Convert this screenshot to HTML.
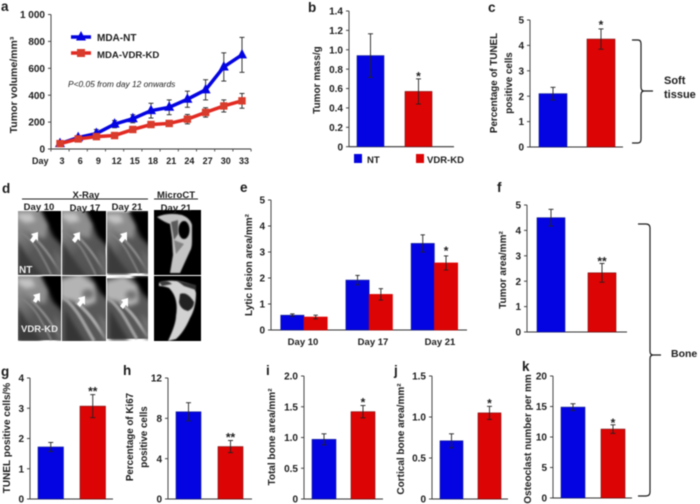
<!DOCTYPE html>
<html lang="en">
<head>
<meta charset="utf-8">
<title>Tumor and bone measurements</title>
<style>
html,body{margin:0;padding:0;background:#fff;width:700px;height:504px;overflow:hidden}
svg#fig{display:block;filter:blur(0.5px)}
text{font-family:"Liberation Sans",sans-serif;font-weight:bold;fill:#1c1c1c}
</style>
</head>
<body>
<svg id="fig" xmlns="http://www.w3.org/2000/svg" width="700" height="504" viewBox="0 0 700 504">
<defs>
  <linearGradient id="xrayBg" x1="0" y1="0" x2="1" y2="1">
    <stop offset="0" stop-color="#9a9a9a"/><stop offset="0.5" stop-color="#585858"/><stop offset="1" stop-color="#505050"/>
  </linearGradient>
  <filter id="soft" x="-30%" y="-30%" width="160%" height="160%"><feGaussianBlur stdDeviation="2.2"/></filter>
  <filter id="bone" x="-20%" y="-20%" width="140%" height="140%"><feGaussianBlur stdDeviation="0.9"/></filter>
  <filter id="softer" x="-20%" y="-20%" width="140%" height="140%"><feGaussianBlur stdDeviation="0.6"/></filter>
  <symbol id="xray-a" viewBox="0 0 44 65">
    <rect width="44" height="65" fill="url(#xrayBg)"/>
    <path d="M22 -4H48V38L36 26Z" fill="#040404" filter="url(#soft)"/>
    <path d="M-2 -2H20L30 14L28 28L16 24L-2 10Z" fill="#8e8e8e" filter="url(#soft)"/>
    <path d="M0 2H14L18 10L8 12L0 7Z" fill="#c4c4c4" filter="url(#soft)"/>
    <path d="M0 20Q14 28 22 42T34 65" fill="none" stroke="#808080" stroke-width="2" filter="url(#bone)"/>
    <path d="M14 24Q26 36 34 48T44 62" fill="none" stroke="#8e8e8e" stroke-width="2.4" filter="url(#bone)"/>
    <path d="M0 30V67H26Q8 46 0 30Z" fill="#3a3a3a" filter="url(#soft)"/>
    <path d="M36 38L46 48V67H40Z" fill="#666" filter="url(#soft)"/>
  </symbol>
  <symbol id="xray-b" viewBox="0 0 44 65">
    <rect width="44" height="65" fill="#585858"/>
    <path d="M26 -4H48V26L38 16Z" fill="#060606" filter="url(#soft)"/>
    <path d="M-2 4L18 -2L32 8L34 26L24 30L8 24L-2 24Z" fill="#b4b4b4" filter="url(#soft)"/>
    <ellipse cx="26" cy="18" rx="6" ry="5" fill="#747474" filter="url(#soft)"/>
    <path d="M0 20Q12 30 20 44T32 65" fill="none" stroke="#a0a0a0" stroke-width="3.4" filter="url(#bone)"/>
    <path d="M14 26Q26 36 34 48T44 62" fill="none" stroke="#aaa" stroke-width="3.4" filter="url(#bone)"/>
    <path d="M3 32V67H24Q10 46 3 32Z" fill="#363636" filter="url(#soft)"/>
    <path d="M36 38L46 46V67H42Z" fill="#6e6e6e" filter="url(#soft)"/>
  </symbol>
  <symbol id="micro-top" viewBox="0 0 47 65">
    <rect width="47" height="65" fill="#000"/>
    <path d="M3 7Q14 2 28 5Q36 8 38 15L38 31Q38 38 36 41L26 63H16L19 45L18 28L16 14Q10 12 3 7Z" fill="#c4c4c4" filter="url(#softer)"/>
    <ellipse cx="30" cy="20" rx="5.5" ry="9" fill="#000" filter="url(#softer)"/>
    <path d="M17 12L24 10L24 24L20 30Z" fill="#5a5a5a" filter="url(#softer)"/>
    <path d="M20 30L30 34L22 44Z" fill="#808080" filter="url(#softer)"/>
  </symbol>
  <symbol id="micro-bottom" viewBox="0 0 47 65">
    <rect width="47" height="65" fill="#000"/>
    <path d="M5 7Q20 1 40 10L42 17Q42 32 36 42Q30 56 22 63L14 65Q22 48 22 40Q25 22 15 12Q10 10 5 10Z" fill="#d2d2d2" filter="url(#softer)"/>
    <path d="M5 6Q12 3 18 8L8 10Z" fill="#3a3a3a" filter="url(#softer)"/>
    <path d="M26 18Q33 15 40 26Q40 32 34 35Q26 33 25 26Z" fill="#222" filter="url(#softer)"/>
    <path d="M22 4L42 9L42 14L30 10Z" fill="#333" filter="url(#softer)"/>
  </symbol>
</defs>
<rect width="700" height="504" fill="#fff"/>

<g>
  <use href="#xray-a" x="18" y="211" width="43" height="64"/>
  <use href="#xray-a" x="62" y="211" width="44" height="64"/>
  <use href="#xray-a" x="107" y="211" width="41" height="64"/>
  <use href="#xray-a" x="18" y="276" width="43" height="65"/>
  <use href="#xray-b" x="62" y="276" width="44" height="65"/>
  <use href="#xray-b" x="107" y="276" width="41" height="65"/>
  <use href="#micro-top" x="154" y="210" width="47" height="65"/>
  <use href="#micro-bottom" x="154" y="276" width="47" height="65"/>
  <g fill="#fff">
    <path d="M38 232L31 234L33 236L30 240L33 243L36 239L38 241Z"/>
    <path d="M80 232L73 234L75 236L72 240L75 243L78 239L80 241Z"/>
    <path d="M127 232L120 234L122 236L119 240L122 243L125 239L127 241Z"/>
    <path d="M40 293L33 295L35 297L33 301L36 303L38 300L40 302Z"/>
    <path d="M85 296L78 298L80 300L77 304L80 307L83 303L85 305Z"/>
    <path d="M128 298L121 300L123 302L120 306L123 309L126 305L128 307Z"/>
  </g>
  <text x="19" y="273" font-size="10" style="fill:#eee">NT</text>
  <text x="21" y="332" font-size="9.5" style="fill:#eee">VDR-KD</text>
  <text x="86" y="198" font-size="9.5" text-anchor="middle">X-Ray</text>
  <line x1="22" x2="148" y1="199" y2="199" stroke="#222" stroke-width="1"/>
  <text x="176" y="198" font-size="9.5" text-anchor="middle">MicroCT</text>
  <line x1="154" x2="198" y1="199" y2="199" stroke="#222" stroke-width="1"/>
  <text x="39" y="210" font-size="9.5" text-anchor="middle">Day 10</text>
  <text x="85" y="211" font-size="9.5" text-anchor="middle">Day 17</text>
  <text x="127" y="210" font-size="9.5" text-anchor="middle">Day 21</text>
  <text x="176" y="211" font-size="9.5" text-anchor="middle">Day 21</text>
</g>

<g fill="none" stroke="#1c1c1c" stroke-width="1.2">
  <path d="M632 40H638Q641 40 641 44V87Q641 91 644 91H653M644 91Q641 91 641 95V139Q641 143 638 143H632"/>
  <path d="M638 224H646Q650 224 650 228V351Q650 355 653 355H661M653 355Q650 355 650 359V492Q650 496 646 496H638"/>
</g>
<text x="664" y="84" font-size="11">Soft</text>
<text x="664" y="98" font-size="11">tissue</text>
<text x="671" y="357" font-size="10.5">Bone</text>

<text x="1" y="11" font-size="13.5">a</text>
<text x="308" y="12" font-size="13.5">b</text>
<text x="488" y="12" font-size="13.5">c</text>
<text x="2" y="193" font-size="13.5">d</text>
<text x="240" y="192" font-size="13.5">e</text>
<text x="497" y="192" font-size="13.5">f</text>
<text x="1" y="376" font-size="13.5">g</text>
<text x="123" y="375" font-size="13.5">h</text>
<text x="266" y="375" font-size="13.5">i</text>
<text x="394" y="375" font-size="13.5">j</text>
<text x="522" y="371" font-size="13.5">k</text>

<g id="charts"></g>
</svg>
<script>
// Panel a
const aDays = ['3','6','9','12','15','18','21','24','27','30','33'];
const aNtValues = [40,85,115,185,225,285,310,370,440,610,700];
const aNtErrors = [5,15,30,27,30,55,55,60,75,105,130];
const aKdValues = [40,75,92,100,145,182,190,222,272,320,358];
const aKdErrors = [5,10,10,10,15,20,22,35,35,45,55];
const aTicks = ['0','200','400','600','800','1 000'];
// Panel b
const bValues = [0.94,0.57];
const bErrors = [0.225,0.13];
const bTicks = ['0','0.2','0.4','0.6','0.8','1.0','1.2','1.4'];
// Panel c
const cValues = [2.1,4.25];
const cErrors = [0.25,0.4];
const cTicks = ['0','1','2','3','4','5'];
// Panel e
const eCategories = ['Day 10','Day 17','Day 21'];
const eNtValues = [0.57,1.92,3.33];
const eNtErrors = [0.05,0.18,0.33];
const eKdValues = [0.5,1.37,2.58];
const eKdErrors = [0.07,0.22,0.27];
const eTicks = ['0','1','2','3','4','5'];
// Panel f
const fValues = [4.5,2.33];
const fErrors = [0.33,0.37];
const fTicks = ['0','1','2','3','4','5'];
// Panel g
const gValues = [1.72,3.07];
const gErrors = [0.15,0.38];
const gTicks = ['0','1','2','3','4'];
// Panel h
const hValues = [8.65,5.2];
const hErrors = [0.9,0.6];
const hTicks = ['0','4','8','12'];
// Panel i
const iValues = [0.97,1.42];
const iErrors = [0.09,0.1];
const iTicks = ['0','0.5','1.0','1.5','2.0'];
// Panel j
const jValues = [0.71,1.05];
const jErrors = [0.085,0.08];
const jTicks = ['0','0.5','1.0','1.5'];
// Panel k
const kValues = [14.9,11.3];
const kErrors = [0.55,0.7];
const kTicks = ['0','5','10','15','20'];

const NS = 'http://www.w3.org/2000/svg';
const root = document.getElementById('charts');
const BLUE = '#0404e2', RED = '#dc0404', DARK = '#222';

function add(parent, tag, name, props, txt) {
  const el = document.createElementNS(NS, tag);
  for (const k in props) el.setAttribute(k, props[k]);
  
  
  if (txt !== undefined) el.textContent = txt;
  parent.appendChild(el);
  return el;
}
function num(s) { return Number(String(s).replace(/\s/g, '')); }

function axes(g, p, ticks) {
  const max = num(ticks[ticks.length - 1]);
  const y = v => p.y0 - (v / max) * (p.y0 - p.yTop);
  add(g, 'line', 'y-axis', {x1:p.x0, x2:p.x0, y1:p.yTop, y2:p.y0, stroke:'#444', 'stroke-width':1});
  add(g, 'line', 'x-axis', {x1:p.x0, x2:p.xEnd, y1:p.y0, y2:p.y0, stroke:'#333', 'stroke-width':1.1});
  ticks.forEach(t => {
    const ty = y(num(t));
    add(g, 'line', 'y-tick', {x1:p.x0 - 3, x2:p.x0, y1:ty, y2:ty, stroke:'#444', 'stroke-width':1});
    add(g, 'text', 'y-tick-label', {x:p.x0 - 6, y:ty + 3.6, 'font-size':p.fs || 10, 'text-anchor':'end'}, t);
  });
  return y;
}
function yTitle(g, lines, xs, cy, size) {
  lines.forEach((l, i) => {
    add(g, 'text', 'y-axis-title', {x:xs[i], y:cy, 'font-size':size || 10, 'text-anchor':'middle',
      transform:'rotate(-90 ' + xs[i] + ' ' + cy + ')'}, l);
  });
}
function errBar(g, cx, y, v, e, cap) {
  const t = y(v + e), b = y(v - e);
  add(g, 'line', 'error-bar', {x1:cx, x2:cx, y1:t, y2:b, stroke:DARK, 'stroke-width':0.9});
  add(g, 'line', 'error-cap-top', {x1:cx - cap, x2:cx + cap, y1:t, y2:t, stroke:DARK, 'stroke-width':0.9});
  add(g, 'line', 'error-cap-bottom', {x1:cx - cap, x2:cx + cap, y1:b, y2:b, stroke:DARK, 'stroke-width':0.9});
}
function bar(g, x, w, y, y0, v, color, edge) {
  add(g, 'rect', 'bar', {x:x, y:y(v), width:w, height:y0 - y(v), fill:color, stroke:edge, 'stroke-width':0.6});
}
function stars(g, cx, yp, s) {
  add(g, 'text', 'significance-marker', {x:cx, y:yp, 'font-size':12, 'text-anchor':'middle'}, s);
}
function twoBar(name, p, values, errors, ticks, sig) {
  const g = add(root, 'g', name, {});
  const y = axes(g, p, ticks);
  const colors = [BLUE, RED], edges = ['#14208a', '#7a1010'];
  values.forEach((v, i) => {
    const x = p.bars[i];
    bar(g, x, p.w, y, p.y0, v, colors[i], edges[i]);
    errBar(g, x + p.w / 2, y, v, errors[i], p.cap || 2.5);
  });
  const cx = p.bars[1] + p.w / 2;
  stars(g, cx, y(values[1] + errors[1]) + p.sigOff, sig);
  return g;
}

// Panel a line chart
(function () {
  const p = {x0:51, xEnd:251, y0:149, yTop:14.5, fs:10};
  const g = add(root, 'g', 'panel-a-tumor-volume', {});
  const y = axes(g, p, aTicks);
  const step = 18.2, first = 60;
  const x = i => first + i * step;
  aDays.forEach((d, i) => {
    add(g, 'line', 'x-tick', {x1:x(i) - step / 2, x2:x(i) - step / 2, y1:p.y0, y2:p.y0 + 2.5, stroke:'#444', 'stroke-width':0.9});
    add(g, 'text', 'x-tick-label', {x:x(i) + 2, y:164, 'font-size':9, 'text-anchor':'middle'}, d);
  });
  add(g, 'line', 'x-tick', {x1:x(10) + step / 2, x2:x(10) + step / 2, y1:p.y0, y2:p.y0 + 2.5, stroke:'#444', 'stroke-width':0.9});
  add(g, 'text', 'x-axis-title', {x:32, y:164, 'font-size':9}, 'Day');
  yTitle(g, ['Tumor volume/mm³'], [17], 85, 10.5);

  aNtValues.forEach((v, i) => errBar(g, x(i), y, v, aNtErrors[i], 2.5));
  aKdValues.forEach((v, i) => errBar(g, x(i), y, v, aKdErrors[i], 2.5));
  add(g, 'polyline', 'series-mda-nt-line', {points:aNtValues.map((v, i) => x(i) + ',' + y(v)).join(' '), fill:'none', stroke:BLUE, 'stroke-width':3.5});
  aNtValues.forEach((v, i) => {
    const px = x(i), py = y(v);
    add(g, 'path', 'series-mda-nt-point', {d:'M' + px + ' ' + (py - 6) + 'L' + (px + 5) + ' ' + (py + 3.5) + 'L' + (px - 5) + ' ' + (py + 3.5) + 'Z', fill:BLUE});
  });
  add(g, 'polyline', 'series-mda-vdr-kd-line', {points:aKdValues.map((v, i) => x(i) + ',' + y(v)).join(' '), fill:'none', stroke:'#e22a22', 'stroke-width':3.5});
  aKdValues.forEach((v, i) => {
    add(g, 'rect', 'series-mda-vdr-kd-point', {x:x(i) - 3.7, y:y(v) - 3.7, width:7.4, height:7.4, fill:'#d83c2c'});
  });
  add(g, 'line', 'legend-line-nt', {x1:71, x2:91, y1:37, y2:37, stroke:BLUE, 'stroke-width':3.5});
  add(g, 'path', 'legend-marker-nt', {d:'M81 31L86 40.5H76Z', fill:BLUE});
  add(g, 'text', 'legend-label-nt', {x:97, y:41, 'font-size':10}, 'MDA-NT');
  add(g, 'line', 'legend-line-kd', {x1:71, x2:91, y1:53, y2:53, stroke:'#e22a22', 'stroke-width':3.5});
  add(g, 'rect', 'legend-marker-kd', {x:77, y:49, width:8, height:8, fill:'#d83c2c'});
  add(g, 'text', 'legend-label-kd', {x:97, y:58, 'font-size':9.6}, 'MDA-VDR-KD');
  add(g, 'text', 'significance-note', {x:68, y:87, 'font-size':8.4, 'font-style':'italic', style:'font-weight:normal'}, 'P<0.05 from day 12 onwards');
})();

// Panel b
(function () {
  const g = twoBar('panel-b-tumor-mass', {x0:349, xEnd:454, y0:146.7, yTop:11, bars:[357,405], w:27, sigOff:1.5}, bValues, bErrors, bTicks, '*');
  yTitle(g, ['Tumor mass/g'], [320], 80, 10);
  add(g, 'rect', 'legend-swatch-nt', {x:354, y:154, width:8, height:9, fill:BLUE});
  add(g, 'text', 'legend-label-nt', {x:367, y:163, 'font-size':9.5}, 'NT');
  add(g, 'rect', 'legend-swatch-kd', {x:416, y:154, width:8, height:9, fill:RED});
  add(g, 'text', 'legend-label-kd', {x:427, y:163, 'font-size':9.5}, 'VDR-KD');
})();

// Panel c
(function () {
  const g = twoBar('panel-c-tunel', {x0:530, xEnd:623, y0:147, yTop:20, bars:[539,587], w:28, sigOff:0}, cValues, cErrors, cTicks, '*');
  yTitle(g, ['Percentage of TUNEL', 'positive cells'], [497, 512], 83, 9.8);
})();

// Panel e
(function () {
  const p = {x0:271, xEnd:467, y0:330, yTop:200};
  const g = add(root, 'g', 'panel-e-lytic-lesion', {});
  const y = axes(g, p, eTicks);
  const groupX = i => 304 + i * 65.2, w = 23.3;
  eCategories.forEach((c, i) => {
    const gx = groupX(i);
    bar(g, gx - w, w, y, p.y0, eNtValues[i], BLUE, '#14208a');
    bar(g, gx, w, y, p.y0, eKdValues[i], RED, RED);
    errBar(g, gx - w / 2, y, eNtValues[i], eNtErrors[i], 2.2);
    errBar(g, gx + w / 2, y, eKdValues[i], eKdErrors[i], 2.2);
    add(g, 'text', 'x-tick-label', {x:[303, 373, 440][i], y:345, 'font-size':9.5, 'text-anchor':'middle'}, c);
  });
  stars(g, groupX(2) + w / 2, y(eKdValues[2] + eKdErrors[2]) - 1, '*');
  yTitle(g, ['Lytic lesion area/mm²'], [252], 265, 10);
})();

// Panels f-k
(function () {
  let g = twoBar('panel-f-tumor-area', {x0:527, xEnd:627, y0:332, yTop:205, bars:[537,588], w:28, sigOff:2}, fValues, fErrors, fTicks, '**');
  yTitle(g, ['Tumor area/mm²'], [506], 270, 10);
  g = twoBar('panel-g-tunel-positive', {x0:30, xEnd:113, y0:499, yTop:378, bars:[38,80], w:25.5, sigOff:1}, gValues, gErrors, gTicks, '**');
  yTitle(g, ['TUNEL positive cells/%'], [10], 438, 10);
  g = twoBar('panel-h-ki67', {x0:168, xEnd:252, y0:499, yTop:378, bars:[176,218], w:25, sigOff:1}, hValues, hErrors, hTicks, '**');
  yTitle(g, ['Percentage of Ki67', 'positive cells'], [133, 147], 437, 9.8);
  g = twoBar('panel-i-total-bone', {x0:304, xEnd:383, y0:499, yTop:376, bars:[312,351], w:24, sigOff:1}, iValues, iErrors, iTicks, '*');
  yTitle(g, ['Total bone area/mm²'], [275], 437, 10);
  g = twoBar('panel-j-cortical-bone', {x0:432, xEnd:508, y0:499, yTop:376, bars:[440,478], w:23, sigOff:1}, jValues, jErrors, jTicks, '*');
  yTitle(g, ['Cortical bone area/mm²'], [404], 439, 10);
  g = twoBar('panel-k-osteoclast', {x0:553, xEnd:632, y0:498, yTop:376, bars:[561,601], w:24, sigOff:2}, kValues, kErrors, kTicks, '*');
  yTitle(g, ['Osteoclast number per mm'], [531], 439, 10);
})();
</script>
</body>
</html>
